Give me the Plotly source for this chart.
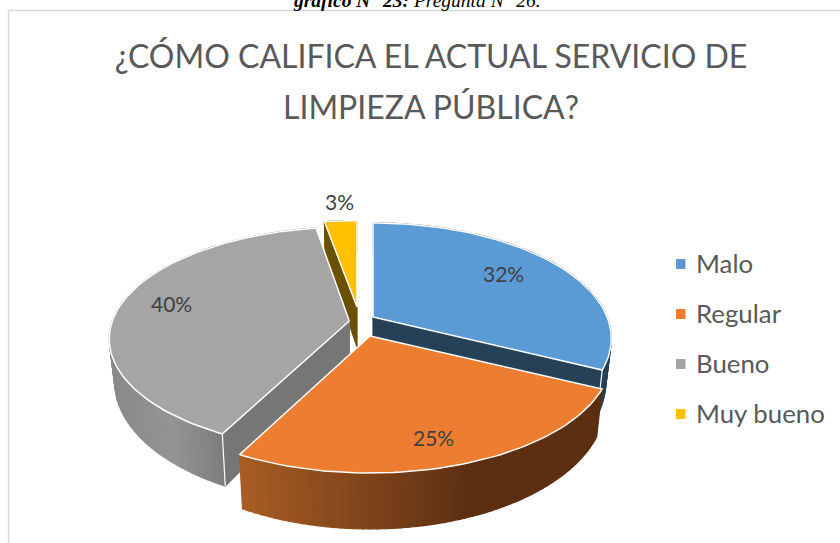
import math
import plotly.graph_objects as go

# ---- data ----
categories = ["Malo", "Regular", "Bueno", "Muy bueno"]
values = [32.2, 25.4, 39.8, 2.6]
title_lines = ["¿CÓMO CALIFICA EL ACTUAL SERVICIO DE", "LIMPIEZA PÚBLICA?"]
caption_bold = "gráfico N° 23:"
caption_rest = " Pregunta N° 26."
top_colors = ["#5B9BD5", "#ED7D31", "#A5A5A5", "#FFC000"]

# ---- 3D look: projection of the pie on to the page ----
W, H = 840, 543
A, B = 237.0, 111.5
APEX = {"Malo": (373, 317, 0.988, 1.0, 0.186), "Regular": (370, 336, 1.0, 1.0, 0.186),
        "Bueno": (349.3, 321, 1.0, 0.978, 0.16), "Muy bueno": (357, 307, 1.0, 0.92, 0.186)}
WALL = {
    "Malo": [(0, "#264058"), (900, "#264058")],
    "Regular": [(242, "#A85C24"), (470, "#5C2F12"), (900, "#5C2F12")],
    "Bueno": [(113, "#8A8A8A"), (170, "#949494"), (225, "#7C7C7C")],
    "Muy bueno": [(0, "#6B5000"), (900, "#6B5000")],
}
RADIAL = {"Malo": ("end", "#264058"), "Bueno": ("start", "#767676"), "Muy bueno": ("start", "#6B5000")}
DRAW_ORDER = ["Muy bueno", "Bueno", "Malo", "Regular"]


def rgb(h):
    return tuple(int(h[i:i + 2], 16) for i in (1, 3, 5))


def grad(stops, x):
    if x <= stops[0][0]:
        return stops[0][1]
    for (x0, c0), (x1, c1) in zip(stops, stops[1:]):
        if x <= x1:
            f = (x - x0) / (x1 - x0)
            a, b = rgb(c0), rgb(c1)
            return "#%02x%02x%02x" % tuple(round(p + (q - p) * f) for p, q in zip(a, b))
    return stops[-1][1]


def top_pt(name, t):
    cx, cy, sx, sy, k = APEX[name]
    u, v = math.sin(t), math.cos(t)
    w = 1 + k * v
    return cx + sx * A * u / w, cy - sy * B * v / w


def down(name, p):
    cx = APEX[name][0]
    return cx + (p[0] - cx) * 0.977, p[1] + 40 + 0.096 * (p[1] - 307)


fig = go.Figure()


def poly(xs, ys, color, line=None, lw=1.2):
    fig.add_trace(go.Scatter(x=xs, y=ys, mode="lines", fill="toself", fillcolor=color,
                             line=dict(color=line or color, width=lw),
                             hoverinfo="skip", showlegend=False))


def edge(xs, ys, lw=1.5):
    fig.add_trace(go.Scatter(x=xs, y=ys, mode="lines", line=dict(color="#FFFFFF", width=lw),
                             hoverinfo="skip", showlegend=False))


angles = {}
c = 0.0
total = sum(values)
for n, v in zip(categories, values):
    angles[n] = (c / total * 2 * math.pi, (c + v) / total * 2 * math.pi)
    c += v

for name in DRAW_ORDER:
    t0, t1 = angles[name]
    idx = categories.index(name)
    n = max(4, int((t1 - t0) / math.radians(1.5)))
    ts = [t0 + (t1 - t0) * i / n for i in range(n + 1)]
    rim = [top_pt(name, t) for t in ts]
    apex = APEX[name][:2]
    # outer wall, in thin strips for the shading
    for a, b in zip(rim, rim[1:]):
        da, db = down(name, a), down(name, b)
        poly([a[0], b[0], db[0], da[0], a[0]], [a[1], b[1], db[1], da[1], a[1]],
             grad(WALL[name], (a[0] + b[0]) / 2))
    # radial cut wall
    if name in RADIAL:
        side, col = RADIAL[name]
        p = rim[-1] if side == "end" else rim[0]
        dp, da = down(name, p), down(name, apex)
        poly([apex[0], p[0], dp[0], da[0], apex[0]], [apex[1], p[1], dp[1], da[1], apex[1]], col)
        if name != "Muy bueno":
            edge([p[0], dp[0]], [p[1], dp[1]], 1.2)
    # top face
    xs = [apex[0]] + [p[0] for p in rim] + [apex[0]]
    ys = [apex[1]] + [p[1] for p in rim] + [apex[1]]
    poly(xs, ys, top_colors[idx], line="#FFFFFF", lw=1.5)

# ---- text ----
FONT = "Lato"
label_pos = {"Malo": (503, 273), "Regular": (433, 437), "Bueno": (171, 303), "Muy bueno": (339, 201)}
ann = []
for n, v in zip(categories, values):
    x, y = label_pos[n]
    ann.append(dict(x=x, y=y, text=f"{round(v)}%", showarrow=False, xanchor="center", yanchor="middle",
                    font=dict(family=FONT, size=21, color="#404040")))
ann.append(dict(x=431, y=106, text=title_lines[1], showarrow=False, xanchor="center", yanchor="middle",
                font=dict(family=FONT, size=32, color="#595959")))
ann.append(dict(x=417, y=0, text=f"<b><i>{caption_bold}</i></b><i>{caption_rest}</i>", showarrow=False,
                xanchor="center", yanchor="middle",
                font=dict(family="Liberation Serif", size=19.5, color="#000000")))
shapes = [
    dict(type="line", x0=8.5, x1=8.5, y0=10.5, y1=543, line=dict(color="#D9D9D9", width=1.5)),
    dict(type="line", x0=8.5, x1=840, y0=10.5, y1=10.5, line=dict(color="#D9D9D9", width=1.5)),
]
for i, (n, col) in enumerate(zip(categories, top_colors)):
    yc = 264 + 50 * i
    shapes.append(dict(type="rect", x0=676, x1=685.5, y0=yc - 5, y1=yc + 5,
                       fillcolor=col, line=dict(width=0)))
    ann.append(dict(x=694, y=yc - 1.5, text=n, showarrow=False, xanchor="left", yanchor="middle",
                    font=dict(family=FONT, size=25.8, color="#595959")))

fig.update_layout(
    width=W, height=H, margin=dict(l=0, r=0, t=0, b=0), autosize=False,
    paper_bgcolor="#FFFFFF", plot_bgcolor="#FFFFFF", showlegend=False,
    title=dict(text=title_lines[0], x=431 / W, xanchor="center", xref="paper",
               y=1 - 57 / H, yanchor="middle", yref="paper",
               font=dict(family=FONT, size=32, color="#595959")),
    xaxis=dict(range=[0, W], visible=False, fixedrange=True),
    yaxis=dict(range=[H, 0], visible=False, fixedrange=True),
    annotations=ann, shapes=shapes,
)
fig.write_html("out.html", config={"displayModeBar": False},
               post_script="document.body.style.margin='0';document.body.style.overflow='hidden';")
